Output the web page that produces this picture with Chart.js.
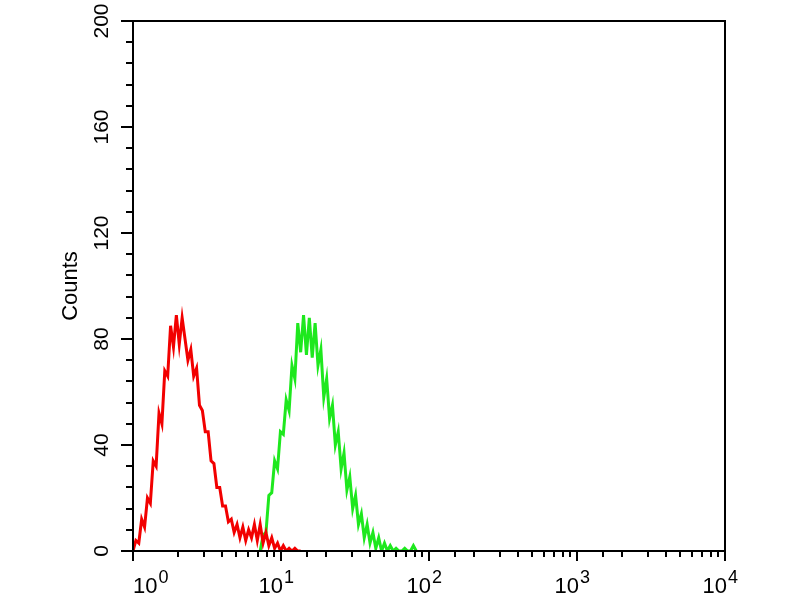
<!DOCTYPE html>
<html>
<head>
<meta charset="utf-8">
<script src="https://cdn.jsdelivr.net/npm/chart.js@4/dist/chart.umd.min.js"></script>
<style>
  html, body { margin: 0; padding: 0; background: #fff; }
  #wrap { width: 800px; height: 600px; }
</style>
</head>
<body>
<div id="wrap"><canvas id="mychart" width="800" height="600"></canvas></div>
<script>
"use strict";
// histogram data: counts per 5-channel bin (1024 channels over 4 decades)
const CHANNELS_PER_DECADE = 256;
const BIN_WIDTH = 5;

const redStartChannel = 0;
const redCounts = [
    0, 4, 3, 12, 9, 20, 18, 34, 32, 52, 48, 68, 66, 85, 77, 89, 78, 88, 80, 72,
    76, 66, 69, 55, 53, 45, 45, 34, 33, 24, 24, 17, 17, 11, 12, 7, 10, 5, 9, 4,
    8, 5, 10, 4, 10, 3, 7, 2, 5, 1, 3, 0, 2, 0, 1, 0, 1, 0, 0
];

const greenStartChannel = 220;
const greenCounts = [
    0, 6, 7, 21, 22, 34, 31, 45, 44, 57, 53, 70, 65, 86, 75, 89, 74, 88, 73, 86,
    70, 76, 58, 65, 50, 55, 40, 45, 31, 37, 23, 28, 16, 21, 10, 14, 5, 10, 3, 7,
    1, 5, 0, 3, 0, 2, 0, 1, 0, 0, 1, 0, 0, 2, 0
];

const xDecades = [0, 1, 2, 3, 4];
const yLabelValues = [0, 40, 80, 120, 160, 200];
const yTitle = "Counts";

(function() {
    const chart = document.getElementById("mychart");

    function toPoints(startChannel, counts) {
        return counts.map((c, i) => ({
            x: Math.pow(10, (startChannel + i * BIN_WIDTH) / CHANNELS_PER_DECADE),
            y: c
        }));
    }

    // box, tick marks and tick labels drawn from the scales
    const framePlugin = {
        id: "frame",
        afterDatasetsDraw(c) {
            const ctx = c.ctx;
            const a = c.chartArea;
            const xs = c.scales.x;
            const ys = c.scales.y;
            ctx.save();
            ctx.strokeStyle = "#000";
            ctx.lineWidth = 2;
            ctx.strokeRect(a.left, a.top, a.right - a.left, a.bottom - a.top);

            ctx.beginPath();
            ys.ticks.forEach(t => {
                const py = Math.round(ys.getPixelForValue(t.value));
                const len = yLabelValues.includes(t.value) ? 12 : 7;
                ctx.moveTo(a.left - len, py);
                ctx.lineTo(a.left, py);
            });
            xs.ticks.forEach(t => {
                const px = Math.round(xs.getPixelForValue(t.value));
                const major = Number.isInteger(Math.log10(t.value));
                const len = major ? 10 : 6;
                ctx.moveTo(px, a.bottom);
                ctx.lineTo(px, a.bottom + len);
            });
            ctx.stroke();

            ctx.fillStyle = "#000";
            ctx.font = "21px 'Liberation Sans', Arial, sans-serif";
            ctx.textAlign = "center";
            ctx.textBaseline = "middle";
            yLabelValues.forEach(v => {
                const py = ys.getPixelForValue(v);
                ctx.save();
                ctx.translate(a.left - 31, py);
                ctx.rotate(-Math.PI / 2);
                ctx.fillText(String(v), 0, 0);
                ctx.restore();
            });

            xDecades.forEach((d, i) => {
                const px = xs.getPixelForValue(Math.pow(10, d));
                ctx.font = "22px 'Liberation Sans', Arial, sans-serif";
                ctx.textBaseline = "alphabetic";
                const baseW = ctx.measureText("10").width;
                const left = i === 0 ? px : px + 2 - baseW;
                ctx.textAlign = "left";
                ctx.fillText("10", left, a.bottom + 42);
                ctx.font = "18px 'Liberation Sans', Arial, sans-serif";
                ctx.fillText(String(d), left + baseW + 1, a.bottom + 32);
            });
            ctx.restore();
        }
    };

    new Chart(chart, {
        type: "line",
        data: {
            datasets: [
                {label: "red",
                data: toPoints(redStartChannel, redCounts),
                borderColor: "#f20000",
                borderWidth: 3,
                pointRadius: 0,
                fill: false
                },

                {label: "green",
                data: toPoints(greenStartChannel, greenCounts),
                borderColor: "#1ee81e",
                borderWidth: 3,
                pointRadius: 0,
                fill: false
                }
            ]
        },
        options: {
            responsive: false,
            animation: false,
            layout: {
                padding: {top: 21, right: 75, left: 0, bottom: 0}
            },
            plugins: {
                legend: {display: false},
                tooltip: {enabled: false}
            },
            scales: {
                x: {
                    type: "logarithmic",
                    min: 1,
                    max: 10000,
                    grid: {display: false, drawTicks: false},
                    border: {display: false},
                    ticks: {display: false},
                    afterFit: s => { s.height = 49; }
                },
                y: {
                    min: 0,
                    max: 200,
                    grid: {display: false, drawTicks: false},
                    border: {display: false},
                    ticks: {display: false, stepSize: 8},
                    title: {
                        display: true,
                        text: yTitle,
                        color: "#000",
                        font: {family: "'Liberation Sans', Arial, sans-serif", size: 22},
                        padding: {top: 58, bottom: 0}
                    },
                    afterFit: s => { s.width = 133; }
                }
            }
        },
        plugins: [framePlugin]
    });
})();
</script>
</body>
</html>
